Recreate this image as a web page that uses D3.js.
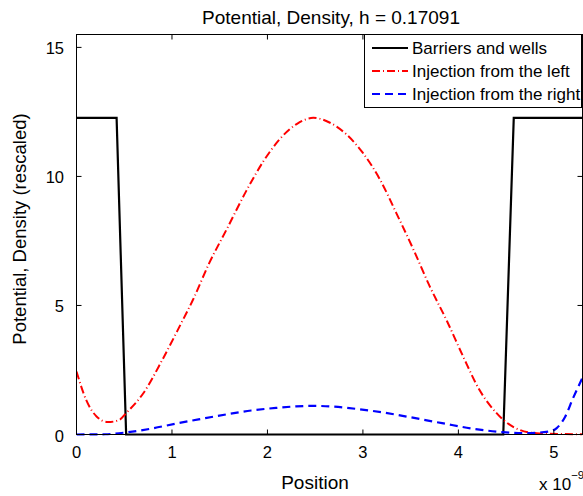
<!DOCTYPE html>
<html>
<head>
<meta charset="utf-8">
<script src="https://cdn.jsdelivr.net/npm/d3@7"></script>
<style>
  body { margin: 0; background: #fff; }
  text { font-family: "Liberation Sans", Arial, Helvetica, sans-serif; fill: #000; }
</style>
</head>
<body>
<script>
var width = 583;
var height = 496;

// potential profile (x in units of 1e-9)
var potX = [0, 0.42, 0.52, 4.47, 4.58, 5.3];
var potV = [12.27, 12.27, 0, 0, 12.27, 12.27];

// density, injection from the left
var leftX = [0, 0.10, 0.21, 0.33, 0.45, 0.52, 0.70, 0.90, 1.08, 1.22, 1.39, 1.57, 1.78, 1.96, 2.13, 2.31, 2.48, 2.65, 2.83, 3.00, 3.18, 3.35, 3.53, 3.70, 3.88, 4.05, 4.22, 4.40, 4.47, 4.64, 4.82, 5.09, 5.3];
var leftV = [2.44, 1.35, 0.70, 0.48, 0.57, 0.83, 1.60, 2.90, 4.19, 5.22, 6.64, 7.93, 9.45, 10.6, 11.45, 12.04, 12.27, 12.09, 11.62, 10.91, 9.87, 8.58, 7.16, 5.74, 4.40, 3.02, 1.73, 0.83, 0.57, 0.18, 0.05, 0.02, 0.01];

// density, injection from the right
var rightX = [0, 0.3, 0.52, 0.8, 1.04, 1.3, 1.57, 1.83, 2.09, 2.3, 2.47, 2.7, 2.96, 3.22, 3.48, 3.83, 4.18, 4.46, 4.70, 4.95, 5.03, 5.12, 5.20, 5.30];
var rightV = [0, 0.01, 0.08, 0.24, 0.42, 0.60, 0.78, 0.93, 1.03, 1.09, 1.11, 1.08, 0.98, 0.85, 0.68, 0.44, 0.21, 0.09, 0.05, 0.12, 0.25, 0.70, 1.40, 2.2];

var xTicks = [0, 1, 2, 3, 4, 5];
var yTicks = [0, 5, 10, 15];
var legendLabels = ["Barriers and wells", "Injection from the left", "Injection from the right"];

var axLeft = 76.5, axRight = 582.5, axTop = 34.5, axBottom = 434.5;

var x = d3.scaleLinear().domain([0, 5.3]).range([axLeft, axRight]);
var y = d3.scaleLinear().domain([0, 15.5]).range([axBottom, axTop]);

var svg = d3.select("body").append("svg")
    .attr("width", width)
    .attr("height", height);

svg.append("defs").append("clipPath").attr("id", "clip")
  .append("rect")
    .attr("x", axLeft).attr("y", axTop - 2)
    .attr("width", axRight - axLeft).attr("height", axBottom - axTop + 4);

var zip = function (xs, vs) { return xs.map(function (d, i) { return [d, vs[i]]; }); };

var smooth = d3.line()
    .x(function (d) { return x(d[0]); })
    .y(function (d) { return y(d[1]); })
    .curve(d3.curveMonotoneX);
var straight = d3.line()
    .x(function (d) { return x(d[0]); })
    .y(function (d) { return y(d[1]); });

var plot = svg.append("g").attr("clip-path", "url(#clip)");

plot.append("path")
    .attr("d", straight(zip(potX, potV)))
    .style("fill", "none")
    .style("stroke", "black")
    .style("stroke-width", 2.2);

plot.append("path")
    .attr("d", smooth(zip(leftX, leftV)))
    .style("fill", "none")
    .style("stroke", "#ff0000")
    .style("stroke-width", 2)
    .style("stroke-dasharray", "8,3,1,3");

plot.append("path")
    .attr("d", smooth(zip(rightX, rightV)))
    .style("fill", "none")
    .style("stroke", "#0000ff")
    .style("stroke-width", 2.2)
    .style("stroke-dasharray", "8,5");

// axes box with inward ticks
var axes = svg.append("g").style("stroke", "black").style("stroke-width", 1);
axes.append("rect")
    .attr("x", axLeft).attr("y", axTop)
    .attr("width", axRight - axLeft).attr("height", axBottom - axTop)
    .style("fill", "none");

xTicks.forEach(function (t) {
    axes.append("line").attr("x1", x(t)).attr("x2", x(t)).attr("y1", axBottom).attr("y2", axBottom - 5);
    axes.append("line").attr("x1", x(t)).attr("x2", x(t)).attr("y1", axTop).attr("y2", axTop + 5);
});
yTicks.forEach(function (t) {
    axes.append("line").attr("x1", axLeft).attr("x2", axLeft + 5).attr("y1", y(t)).attr("y2", y(t));
    axes.append("line").attr("x1", axRight).attr("x2", axRight - 5).attr("y1", y(t)).attr("y2", y(t));
});

svg.append("g").selectAll("text")
    .data(xTicks)
    .enter().append("text")
    .attr("x", function (d) { return x(d); })
    .attr("y", 457.5)
    .attr("text-anchor", "middle")
    .style("font-size", "16.5px")
    .text(function (d) { return d; });

svg.append("g").selectAll("text")
    .data(yTicks)
    .enter().append("text")
    .attr("x", 64)
    .attr("y", function (d) { return y(d) + 7; })
    .attr("text-anchor", "end")
    .style("font-size", "16.5px")
    .text(function (d) { return d; });

svg.append("text")
    .attr("x", 331)
    .attr("y", 24)
    .attr("text-anchor", "middle")
    .style("font-size", "19px")
    .text("Potential, Density, h = 0.17091");

svg.append("text")
    .attr("x", 315)
    .attr("y", 489)
    .attr("text-anchor", "middle")
    .style("font-size", "19px")
    .text("Position");

svg.append("text")
    .attr("transform", "translate(26,229) rotate(-90)")
    .attr("text-anchor", "middle")
    .style("font-size", "18.5px")
    .text("Potential, Density (rescaled)");

var mult = svg.append("text")
    .attr("x", 539)
    .attr("y", 490)
    .style("font-size", "17px");
mult.append("tspan").text("x 10");
mult.append("tspan").attr("dy", -11).style("font-size", "11.5px").text("\u22129");

// legend
var legend = svg.append("g");
legend.append("rect")
    .attr("x", 364.5).attr("y", axTop)
    .attr("width", 217).attr("height", 73)
    .style("fill", "white")
    .style("stroke", "black")
    .style("stroke-width", 1);

var legendStyles = [
    { color: "black", dash: null, w: 2.2 },
    { color: "#ff0000", dash: "8,3,1,3", w: 2 },
    { color: "#0000ff", dash: "8,5", w: 2.2 }
];
var rowY = [48, 71, 94];
legendLabels.forEach(function (label, i) {
    legend.append("line")
        .attr("x1", 372).attr("x2", 408)
        .attr("y1", rowY[i]).attr("y2", rowY[i])
        .style("stroke", legendStyles[i].color)
        .style("stroke-width", legendStyles[i].w)
        .style("stroke-dasharray", legendStyles[i].dash);
    legend.append("text")
        .attr("x", 412)
        .attr("y", rowY[i] + 6)
        .style("font-size", "17px")
        .text(label);
});
</script>
</body>
</html>
